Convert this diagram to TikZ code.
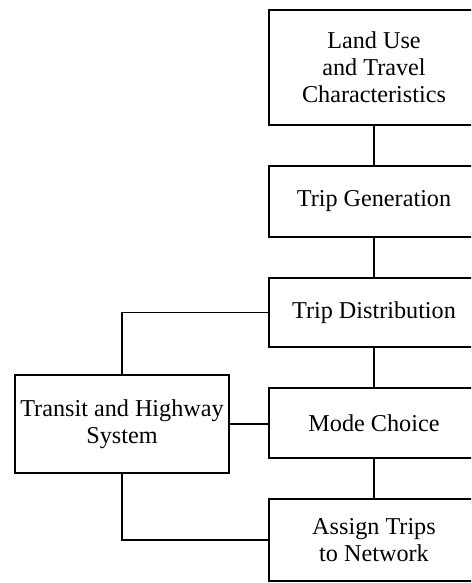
\documentclass[tikz,border=0pt]{standalone}
\usepackage{fontspec}
\setmainfont{Liberation Serif}
\usetikzlibrary{positioning}

\begin{document}
\begin{tikzpicture}[x=0.5pt, y=-0.5pt, line width=0.8pt,
    font=\fontsize{12.1}{13.5}\selectfont,
    stagebox/.style={draw, align=center, minimum width=105pt, inner sep=0pt}]
  %% Page frame (pixel grid of the scan)
  \useasboundingbox (0,0) rectangle (471,583);
  \clip (0,0) rectangle (471,583);

  %% Main chain of model stages
  \node[stagebox, minimum height=57.5pt] (landuse) at (374,67.5)
    {Land Use\\and Travel\\Characteristics};
  \node[stagebox, minimum height=35.5pt] (tripgen) at (374,201.5)
    {Trip Generation};
  \node[stagebox, minimum height=34.5pt] (tripdist) at (374,312.5)
    {Trip Distribution};
  \node[stagebox, minimum height=35pt] (modechoice) at (374,423)
    {Mode Choice};
  \node[stagebox, minimum height=41pt] (assign) at (374,540)
    {Assign Trips\\to Network};

  %% Network supply box
  \node[draw, align=center, minimum width=107pt, minimum height=49pt,
        inner sep=0pt] (transit) at (122,424)
    {Transit and Highway\\System};

  %% Links
  \draw (landuse) -- (tripgen);
  \draw (tripgen) -- (tripdist);
  \draw (tripdist) -- (modechoice);
  \draw (modechoice) -- (assign);
  \draw (tripdist.west) -| (transit.north);
  \draw (transit.east) -- (transit.east -| modechoice.west);
  \draw (transit.south) |- (assign.west);
\end{tikzpicture}
\end{document}
